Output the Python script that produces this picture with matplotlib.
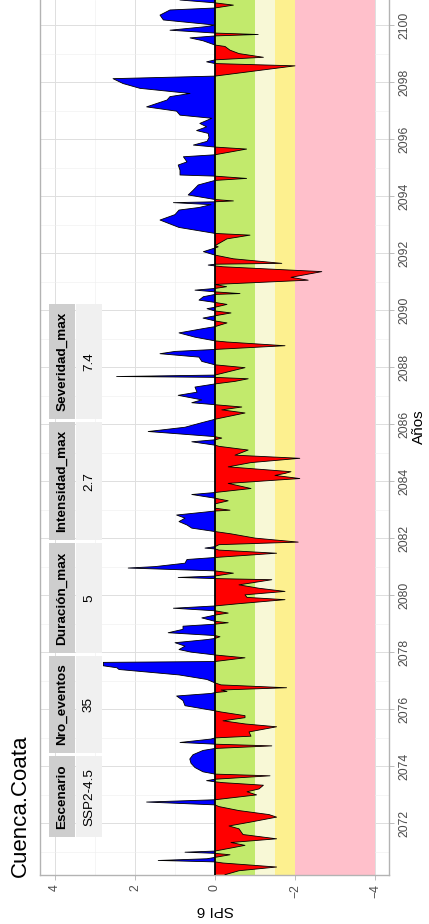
import matplotlib
matplotlib.use("Agg")
import matplotlib.pyplot as plt
import numpy as np
from matplotlib.patches import Rectangle
from matplotlib.ticker import MultipleLocator

plt.rcParams['font.family'] = ['Liberation Sans', 'DejaVu Sans']

# SPI-6 series (year, value)
anos = [
    2070.19, 2070.33, 2070.46, 2070.60, 2070.64, 2070.69, 2070.75, 2070.80, 2070.89, 2070.94,
    2070.98, 2071.02, 2071.10, 2071.22, 2071.32, 2071.45, 2071.60, 2071.80, 2071.90, 2072.04,
    2072.21, 2072.30, 2072.44, 2072.58, 2072.64, 2072.74, 2072.82, 2072.99,
    2073.10, 2073.20, 2073.33, 2073.42, 2073.45, 2073.49, 2073.54, 2073.66, 2073.72, 2073.80,
    2073.95, 2074.10, 2074.25, 2074.40, 2074.55, 2074.62, 2074.71, 2074.77, 2074.83, 2074.95,
    2074.99, 2075.05, 2075.20, 2075.38, 2075.48, 2075.59, 2075.70, 2075.77, 2075.90, 2075.94,
    2076.12,
    2076.30, 2076.46, 2076.55, 2076.58, 2076.62, 2076.67, 2076.75, 2076.85, 2076.92, 2077.04,
    2077.20, 2077.39, 2077.45, 2077.52, 2077.64, 2077.67, 2077.80, 2077.90, 2078.00, 2078.09,
    2078.21, 2078.33, 2078.44, 2078.48, 2078.54, 2078.58, 2078.68, 2078.80, 2078.91, 2078.98,
    2079.03, 2079.08, 2079.20,
    2079.30, 2079.37, 2079.45, 2079.54, 2079.62, 2079.70, 2079.84, 2079.92, 2080.01, 2080.13,
    2080.24, 2080.36, 2080.54, 2080.58, 2080.62, 2080.67, 2080.77, 2080.85, 2080.95, 2081.00,
    2081.12, 2081.25, 2081.32, 2081.47, 2081.58, 2081.62, 2081.65, 2081.70, 2081.77, 2081.86,
    2082.00, 2082.15, 2082.23, 2082.35,
    2082.46, 2082.58, 2082.70, 2082.81, 2082.92, 2082.95, 2082.98, 2083.05, 2083.20, 2083.31,
    2083.40, 2083.53, 2083.60, 2083.74, 2083.92, 2084.09, 2084.20, 2084.27, 2084.33, 2084.50,
    2084.65, 2084.80, 2084.91, 2085.09, 2085.22, 2085.26, 2085.38,
    2085.45, 2085.51, 2085.56, 2085.74, 2085.89, 2086.05, 2086.17, 2086.39, 2086.50, 2086.60,
    2086.68, 2086.75, 2086.85, 2087.01, 2087.12, 2087.30, 2087.41, 2087.50, 2087.59, 2087.64,
    2087.67, 2087.72, 2087.98, 2088.08, 2088.20, 2088.35, 2088.47,
    2088.55, 2088.62, 2088.75, 2088.88, 2088.92, 2089.05, 2089.20, 2089.35, 2089.42, 2089.55,
    2089.62, 2089.72, 2089.80, 2089.90, 2089.97, 2090.05, 2090.10, 2090.20, 2090.27, 2090.35,
    2090.47, 2090.55, 2090.58, 2090.64, 2090.70, 2090.76, 2090.82, 2090.90, 2091.05, 2091.15,
    2091.35, 2091.52, 2091.55, 2091.58, 2091.61, 2091.64, 2091.80, 2091.93, 2092.05, 2092.18,
    2092.22, 2092.26, 2092.50, 2092.63, 2092.69, 2092.90, 2093.16, 2093.35, 2093.51, 2093.60,
    2093.70, 2093.77, 2093.80, 2093.83, 2093.88, 2094.04, 2094.20, 2094.39, 2094.55, 2094.62,
    2094.70, 2094.74, 2094.91, 2095.09, 2095.20, 2095.38, 2095.45, 2095.65, 2095.72, 2095.79,
    2095.92, 2096.05, 2096.20, 2096.30, 2096.43, 2096.55, 2096.73, 2096.84, 2096.98, 2097.13,
    2097.37, 2097.49, 2097.60, 2097.66, 2097.78, 2097.95, 2098.12, 2098.21, 2098.57, 2098.65,
    2098.71, 2098.78, 2098.87, 2099.00, 2099.12, 2099.25, 2099.30, 2099.45, 2099.55, 2099.62,
    2099.67, 2099.72, 2099.82, 2099.95, 2100.00, 2100.18, 2100.35, 2100.53, 2100.60, 2100.70,
    2100.78, 2100.88,
]
spi6 = [
    -0.25, -0.6, -1.54, -0.2, 0.0, 1.42, 0.2, 0.0, -0.375, 0.0,
    0.75, 0.0, -0.3, -0.75, -0.4, -1.54, -0.7, -0.6, -0.35, -0.9,
    -1.54, -1.35, -0.6, -0.1, 0.0, 1.71, 0.0, -1.04,
    -0.8, -1.1, -1.21, -0.2, 0.0, 0.21, 0.0, -1.375, 0.0, 0.3,
    0.5, 0.6, 0.63, 0.55, 0.3, 0.0, -1.42, 0.0, 0.875, 0.1,
    0.0, -0.9, -0.85, -1.54, -0.75, -0.2, -0.75, -0.75, -0.15, 0.0,
    0.75,
    0.8, 0.96, 0.1, 0.0, -0.3, -0.15, -1.79, -0.15, 0.0, 0.2,
    0.9, 2.4, 2.45, 2.79, 2.79, 0.0, -0.75, 0.0, 0.6, 0.9,
    0.75, 1.0, 0.2, 0.0, -0.125, 0.0, 1.17, 0.8, 0.8, 0.0,
    -0.33, 0.0, 0.33,
    0.0, -0.33, 0.0, 1.04, 0.0, -0.6, -1.75, -0.8, -0.75, -1.75,
    -1.1, -0.6, -1.42, 0.0, 0.92, 0.0, -0.46, 0.0, 2.17, 1.5,
    0.75, 0.7, 0.0, -1.54, -0.1, 0.0, 0.25, 0.0, -0.1, -2.08,
    -1.0, -0.4, 0.0, 0.58,
    0.7, 0.9, 0.75, 0.96, 0.2, 0.0, -0.375, 0.0, 0.0, -0.33,
    0.0, 0.58, 0.0, -0.9, -0.33, -2.12, -1.5, -1.75, -1.9, -0.33,
    -0.9, -2.12, -0.5, -0.83, -0.1, 0.0, 0.58,
    0.0, -0.17, 0.0, 1.67, 0.75, 0.33, 0.0, -0.75, -0.17, -0.67,
    0.0, 0.58, 0.33, 0.92, 0.45, 0.5, 0.0, -0.5, -0.83, 0.0,
    2.46, 0.0, -0.75, 0.0, 0.33, 0.4, 1.375,
    1.0, 0.0, -1.75, -0.3, 0.0, 0.5, 0.9, 0.3, 0.0, -0.3,
    0.0, 0.3, 0.0, -0.4, 0.0, 0.2, 0.0, -0.3, 0.0, 0.4,
    0.29, 0.0, -0.625, 0.0, 0.5, 0.0, -0.29, 0.0, -2.33, -1.9,
    -2.67, -0.2, 0.0, 0.17, 0.0, -1.67, -0.46, 0.0, 0.29, 0.0,
    -0.08, 0.0, -0.3, -0.875, 0.0, 0.9, 1.375, 1.0, 0.9, 0.4,
    0.1, 1.04, 0.0, -0.46, 0.0, 0.67, 0.55, 0.42, 0.0, -0.79,
    0.0, 0.875, 0.875, 0.92, 0.7, 0.79, 0.0, -0.79, 0.0, 0.54,
    0.2, 0.15, 0.17, 0.46, 0.21, 0.38, 0.08, 0.875, 0.96, 1.71,
    1.2, 1.125, 0.625, 1.04, 1.875, 2.3, 2.55, 0.0, -2.0, 0.0,
    0.21, 0.0, -1.21, -0.6, -0.375, -0.25, 0.0, 0.3, 0.625, 0.0,
    -1.08, 0.0, 1.125, 0.2, 0.0, 1.29, 1.375, 1.125, 0.0, -0.46,
    0.0, 0.875,
]

# drought classes (SPI bands)
bandas_lim = [(0, -1), (-1, -1.5), (-1.5, -2), (-2, -4)]
bandas_col = ['#c2ea6c', '#f8f8d6', '#fdf08f', '#ffc0cb']

tabla_cols = ['Escenario', 'Nro_eventos', 'Duración_max', 'Intensidad_max', 'Severidad_max']
tabla_vals = ['SSP2-4.5', '35', '5', '2.7', '7.4']

W, H = 429, 924
fig = plt.figure(figsize=(W / 100, H / 100), dpi=100)
ax = fig.add_axes([40 / W, 1 - 875 / H, 349 / W, 875 / H])

x = np.array(spi6)
y = np.array(anos)

for (a, b), c in zip(bandas_lim, bandas_col):
    ax.axvspan(a, b, color=c, lw=0, zorder=1)

ax.fill_betweenx(y, 0, x, where=x >= 0, interpolate=True, color='blue', lw=0, zorder=2)
ax.fill_betweenx(y, 0, x, where=x <= 0, interpolate=True, color='red', lw=0, zorder=2)
ax.plot(x, y, color='black', lw=0.6, zorder=3)
ax.axvline(0, color='black', lw=1.3, zorder=4)

ax.set_xlim(4.375, -4.35)
ax.set_ylim(2070.18, 2100.88)
ax.set_xticks([-4, -2, 0, 2, 4])
ax.set_yticks(np.arange(2072, 2101, 2))
ax.xaxis.set_minor_locator(MultipleLocator(1))
ax.yaxis.set_minor_locator(MultipleLocator(1))
ax.set_axisbelow(True)
ax.grid(which='major', color='#dedede', lw=0.7)
ax.grid(which='minor', color='#eeeeee', lw=0.4)
ax.yaxis.tick_right()
ax.tick_params(which='major', length=3.5, width=0.6, color='#b3b3b3',
               labelsize=8.8, labelcolor='#4d4d4d', pad=3)
ax.tick_params(which='minor', length=0)
ax.tick_params(axis='x', labelrotation=90)
ax.tick_params(axis='y', labelrotation=90)
for lab in ax.get_yticklabels():
    lab.set_va('center')
for s in ax.spines.values():
    s.set_color('#b3b3b3')
    s.set_linewidth(1.0)
ax.spines['top'].set_visible(False)

fig.text(419 / W, 1 - 427 / H, 'Años', rotation=90, ha='center', va='center', fontsize=11)
fig.text(215 / W, 1 - 910 / H, 'SPI 6', rotation=180, ha='center', va='center', fontsize=11)
fig.text(20 / W, 1 - 877 / H, 'Cuenca.Coata', rotation=90, ha='center', va='bottom', fontsize=16)

# summary table (rotated like the rest of the chart)
r = fig.canvas.get_renderer()
ytab = 837
for col, val in zip(tabla_cols, tabla_vals):
    th = fig.text(62 / W, 0, col, rotation=90, ha='center', va='center',
                  fontsize=9.7, fontweight='bold', zorder=11)
    tv = fig.text(89 / W, 0, val, rotation=90, ha='center', va='center',
                  fontsize=9.7, zorder=11)
    h = max(th.get_window_extent(r).height, tv.get_window_extent(r).height) + 16
    yc = ytab - h / 2
    th.set_y(1 - yc / H)
    tv.set_y(1 - yc / H)
    fig.add_artist(Rectangle((49 / W, 1 - ytab / H), 26 / W, h / H, transform=fig.transFigure,
                             facecolor='#cecece', edgecolor='none', zorder=10))
    fig.add_artist(Rectangle((76 / W, 1 - ytab / H), 26 / W, h / H, transform=fig.transFigure,
                             facecolor='#f0f0f0', edgecolor='none', zorder=10))
    ytab -= h + 3

fig.savefig('out.png', dpi=100)
